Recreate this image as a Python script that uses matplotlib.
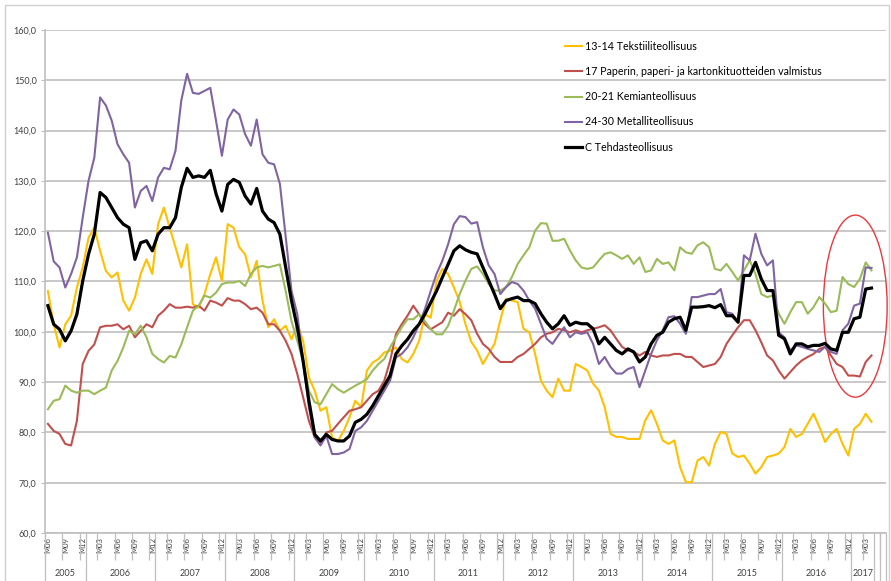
import matplotlib
matplotlib.use('Agg')
import matplotlib.pyplot as plt
import matplotlib.transforms as mtransforms
from matplotlib.patches import Ellipse, Rectangle
import numpy as np

plt.rcParams['font.family'] = ['Lato', 'DejaVu Sans']

# monthly index values, 2005 M06 .. 2017 M04
tekstiili = [108.1, 101.5, 96.9, 101.5, 103.2, 108.8, 112.8, 118.7, 120.7, 116.1,
	112.1, 110.8, 111.8, 106.2, 104.2, 106.8, 111.5, 114.4, 111.5, 121.4,
	124.7, 120.7, 116.8, 112.8, 117.4, 105.5, 104.8, 107.5, 111.5, 114.8,
	110.1, 121.4, 120.7, 116.8, 115.4, 110.8, 114.1, 106.2, 100.9, 102.5,
	100.2, 101.2, 98.5, 101.5, 98.2, 90.9, 88.3, 84.3, 85.0, 79.0,
	78.3, 80.3, 83.0, 86.3, 85.0, 92.3, 93.9, 94.6, 95.9, 96.2,
	96.9, 94.6, 93.9, 95.6, 98.2, 103.5, 102.8, 110.1, 112.5, 111.5,
	108.8, 106.0, 101.5, 98.0, 96.3, 93.6, 95.6, 97.6, 102.3, 106.6,
	106.2, 105.9, 100.6, 99.9, 95.6, 90.3, 88.3, 87.0, 90.7, 88.3,
	88.3, 93.6, 93.0, 92.3, 89.7, 88.3, 85.0, 79.7, 79.1, 79.1,
	78.7, 78.7, 78.7, 82.4, 84.4, 81.7, 78.4, 77.7, 78.4, 73.1,
	70.1, 70.1, 74.4, 75.1, 73.4, 77.7, 80.1, 79.7, 75.8, 75.1,
	75.4, 73.8, 71.8, 73.1, 75.1, 75.4, 75.8, 77.1, 80.7, 79.1,
	79.7, 81.7, 83.7, 81.1, 78.1, 79.7, 80.7, 77.7, 75.4, 80.7,
	81.7, 83.7, 82.1]

paperi = [81.7, 80.3, 79.7, 77.7, 77.4, 82.3, 93.6, 96.2, 97.5, 100.9,
	101.2, 101.2, 101.5, 100.5, 101.2, 98.9, 100.2, 101.5, 100.9, 103.2,
	104.2, 105.5, 104.8, 104.8, 105.0, 104.8, 105.2, 104.2, 106.2, 105.8,
	105.2, 106.7, 106.2, 106.2, 105.5, 104.5, 104.8, 103.8, 101.5, 101.5,
	100.2, 98.2, 95.6, 91.6, 87.0, 82.3, 79.0, 77.7, 80.0, 80.3,
	81.7, 83.0, 84.3, 84.6, 85.0, 86.3, 87.6, 88.3, 90.3, 94.2,
	99.5, 101.5, 103.2, 105.2, 103.5, 101.5, 100.5, 101.2, 101.9, 103.8,
	103.2, 104.5, 103.5, 102.3, 99.6, 97.6, 96.6, 95.0, 94.0, 94.0,
	94.0, 95.0, 95.6, 96.6, 97.6, 98.9, 99.6, 99.9, 100.6, 100.3,
	99.9, 100.3, 99.9, 100.3, 100.6, 100.9, 101.3, 100.3, 98.6, 97.0,
	96.3, 96.0, 95.3, 96.0, 95.3, 95.0, 95.3, 95.3, 95.6, 95.6,
	95.0, 95.0, 94.0, 93.0, 93.3, 93.6, 95.0, 97.6, 99.3, 100.9,
	102.3, 102.3, 100.3, 97.9, 95.3, 94.3, 92.3, 90.7, 92.0, 93.3,
	94.3, 95.0, 95.6, 96.6, 97.0, 95.3, 93.6, 93.0, 91.3, 91.3,
	91.1, 94.0, 95.3]

kemia = [84.6, 86.3, 86.6, 89.3, 88.3, 87.9, 88.3, 88.3, 87.6, 88.3,
	88.9, 92.3, 94.2, 96.9, 100.2, 99.5, 101.2, 98.9, 95.6, 94.6,
	93.9, 95.2, 94.9, 97.5, 100.9, 104.2, 105.2, 107.2, 106.8, 107.8,
	109.5, 109.8, 109.8, 110.1, 109.1, 111.5, 112.8, 113.1, 112.8, 113.1,
	113.4, 108.1, 102.1, 98.2, 94.2, 88.3, 86.0, 85.6, 87.6, 89.6,
	88.6, 87.9, 88.6, 89.3, 89.9, 90.6, 92.3, 93.6, 94.6, 96.9,
	98.9, 100.9, 102.5, 102.5, 103.5, 102.1, 100.5, 99.5, 99.5, 101.2,
	104.2, 107.5, 110.2, 112.5, 113.0, 111.5, 109.5, 108.2, 108.2, 108.9,
	110.9, 113.5, 115.2, 116.8, 120.1, 121.6, 121.5, 118.1, 118.1, 118.5,
	116.2, 114.2, 112.8, 112.5, 112.8, 114.2, 115.5, 115.8, 115.2, 114.5,
	115.2, 113.5, 114.8, 111.9, 112.2, 114.5, 113.5, 113.8, 112.2, 116.8,
	115.8, 115.5, 117.2, 117.8, 116.8, 112.5, 112.2, 113.5, 111.9, 110.2,
	112.2, 114.2, 111.5, 107.5, 106.9, 107.2, 103.6, 101.6, 103.9, 105.9,
	105.9, 103.6, 104.9, 106.9, 105.6, 103.9, 104.2, 110.9, 109.5, 108.9,
	110.5, 113.8, 112.2]

metalli = [119.7, 114.0, 112.8, 108.8, 111.5, 114.8, 122.7, 130.0, 134.6, 146.6,
	145.0, 142.0, 137.3, 135.3, 133.6, 124.7, 128.0, 129.0, 126.0, 130.7,
	132.6, 132.3, 136.0, 146.0, 151.3, 147.5, 147.3, 147.9, 148.5, 141.9,
	135.0, 142.2, 144.2, 143.2, 139.3, 137.0, 142.2, 135.3, 133.6, 133.3,
	129.4, 118.9, 108.1, 103.5, 94.2, 85.0, 79.0, 77.4, 79.3, 75.7,
	75.7, 76.0, 76.7, 80.3, 81.0, 82.3, 84.3, 86.3, 88.3, 90.3,
	94.9, 95.6, 96.9, 98.9, 101.5, 104.5, 108.1, 111.5, 114.1, 117.4,
	121.4, 123.0, 122.8, 121.5, 121.8, 116.8, 113.2, 111.5, 107.5, 108.9,
	109.9, 109.5, 108.2, 106.2, 104.6, 101.6, 98.6, 97.6, 99.3, 100.9,
	98.9, 99.9, 99.6, 99.9, 97.6, 93.6, 95.0, 93.0, 91.7, 91.7,
	92.6, 93.0, 89.0, 92.3, 95.6, 98.3, 100.3, 102.9, 103.1, 101.6,
	99.6, 106.9, 106.9, 107.2, 107.5, 107.5, 108.5, 103.9, 103.6, 101.9,
	115.2, 114.2, 119.5, 115.5, 113.2, 114.2, 99.9, 98.9, 96.3, 97.3,
	97.0, 96.6, 96.3, 96.0, 97.0, 96.0, 95.6, 100.3, 101.6, 105.2,
	105.6, 112.8, 112.7]

tehdas = [105.2, 101.5, 100.5, 98.2, 100.2, 103.5, 110.1, 115.4, 119.4, 127.7,
	126.7, 124.7, 122.7, 121.4, 120.7, 114.4, 117.7, 118.1, 116.1, 119.4,
	120.7, 120.7, 122.7, 128.7, 132.5, 130.7, 131.0, 130.7, 132.1, 127.4,
	124.0, 129.3, 130.3, 129.7, 127.0, 125.4, 128.5, 124.0, 122.4, 121.7,
	119.4, 112.8, 106.2, 100.9, 94.2, 86.3, 79.6, 78.3, 79.6, 78.6,
	78.3, 78.3, 79.3, 82.0, 82.6, 83.6, 85.3, 87.3, 89.3, 91.3,
	95.6, 97.2, 98.5, 100.2, 101.5, 103.5, 105.8, 108.1, 110.8, 113.4,
	116.1, 117.1, 116.3, 115.8, 115.5, 112.8, 110.2, 107.5, 104.6, 106.2,
	106.6, 106.9, 106.2, 106.2, 105.6, 103.6, 101.9, 100.6, 101.6, 103.2,
	101.3, 101.9, 101.6, 101.6, 100.6, 97.6, 98.9, 97.6, 96.3, 95.6,
	96.6, 96.0, 94.0, 95.0, 97.6, 99.3, 99.9, 101.9, 102.6, 102.9,
	100.3, 104.9, 104.9, 105.0, 105.2, 104.8, 105.4, 103.2, 103.2, 101.9,
	111.2, 111.2, 113.8, 110.5, 108.2, 108.2, 99.3, 98.6, 95.6, 97.6,
	97.6, 97.0, 97.3, 97.3, 97.7, 96.6, 96.3, 99.9, 99.9, 102.6,
	102.9, 108.5, 108.7]

series_names = ['13-14 Tekstiiliteollisuus',
	'17 Paperin, paperi- ja kartonkituotteiden valmistus',
	'20-21 Kemianteollisuus',
	'24-30 Metalliteollisuus',
	'C Tehdasteollisuus']
series_colors = ['#ffc000', '#c0504d', '#9bbb59', '#8064a2', '#000000']
series_widths = [1.5, 1.5, 1.5, 1.5, 2.3]

start_year = 2005
start_month = 6
n_cats = 145   # axis has two empty categories after the data
yticks = [60, 70, 80, 90, 100, 110, 120, 130, 140, 150, 160]

n_data = len(tehdas)
years = [start_year + (start_month - 1 + i) // 12 for i in range(n_data)]
months = [(start_month - 1 + i) % 12 + 1 for i in range(n_data)]

fig = plt.figure(figsize=(8.91, 5.81), dpi=100)
ax = fig.add_axes([45/891, 48/581, 841/891, 503/581])

x = np.arange(n_data)
for vals, name, col, lw in zip([tekstiili, paperi, kemia, metalli, tehdas],
		series_names, series_colors, series_widths):
	ax.plot(x, vals, color=col, lw=lw, label=name, solid_joinstyle='round')

ax.set_xlim(-0.5, n_cats - 0.5)
ax.set_ylim(60, 160)
ax.set_yticks(yticks)
ax.set_yticklabels([('%.1f' % v).replace('.', ',') for v in yticks])
ax.yaxis.grid(True, color='#bfbfbf', lw=1.2)
ax.set_axisbelow(True)
ax.tick_params(axis='y', length=3, color='#bfbfbf', labelsize=6.5, labelcolor='#404040', pad=3)

for s in ['top', 'right']:
	ax.spines[s].set_visible(False)
for s in ['left', 'bottom']:
	ax.spines[s].set_color('#bfbfbf')
	ax.spines[s].set_linewidth(1.2)

# month labels every third month
lab_pos = [i for i in range(n_data) if months[i] % 3 == 0]
ax.set_xticks(lab_pos)
ax.set_xticklabels(['M%02d' % months[i] for i in lab_pos], rotation=90, fontsize=5.5,
	color='#404040')
ax.tick_params(axis='x', which='major', length=0, pad=3)
sep = np.arange(-0.5, n_cats, 3)
ax.set_xticks(sep, minor=True)
ax.tick_params(axis='x', which='minor', length=19.5, color='#bfbfbf', width=0.9)

# year row
trans = mtransforms.blended_transform_factory(ax.transData, ax.transAxes)
bounds = []
for yr in sorted(set(years)):
	idx = [i for i in range(n_data) if years[i] == yr]
	lo, hi = idx[0] - 0.5, idx[-1] + 0.5
	bounds.append(lo)
	ax.text((lo + hi) / 2, -0.08, str(yr), transform=trans, ha='center', va='center',
		fontsize=6.5, color='#404040')
bounds += [i - 0.5 for i in range(n_data, n_cats + 1)]
ax.vlines(bounds, -0.1, 0, transform=trans, color='#bfbfbf', lw=0.9, clip_on=False)

ax.legend(loc='upper left', bbox_to_anchor=(0.618, 0.978), frameon=False, fontsize=7.7,
	handlelength=1.6, handletextpad=0.3, labelspacing=1.32, borderpad=0, borderaxespad=0)

# red highlight round the last months
ax.add_patch(Ellipse((139.2, 105.1), 11, 36.2, fill=False, edgecolor='#e8393d', lw=1.0,
	clip_on=False))

# chart border
fig.patches.append(Rectangle((5/891, -0.05), 884/891, 1.05 - 5/581, transform=fig.transFigure,
	fill=False, edgecolor='#d0d0d0', lw=1.0))

plt.savefig('out.png', dpi=100)
